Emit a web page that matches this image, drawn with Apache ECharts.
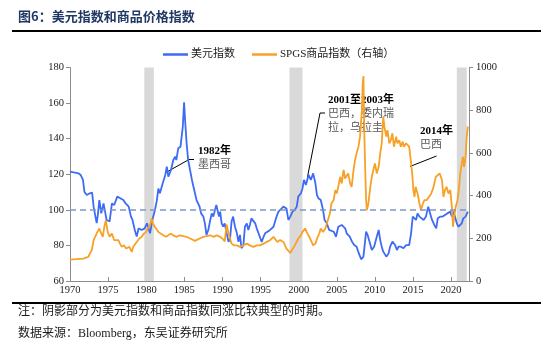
<!DOCTYPE html>
<html><head><meta charset="utf-8">
<script src="https://cdn.jsdelivr.net/npm/echarts@6/dist/echarts.min.js"></script>
<style>html,body{margin:0;padding:0;background:#fff}#c{width:553px;height:355px}</style>
</head><body><div id="c"></div>
<script>
// ---- data ----
const usdTime = [1970.0,1970.5,1971.1,1971.4,1971.7,1971.9,1972.2,1972.6,1972.9,1973.1,1973.3,1973.5,1973.65,1973.85,1974.1,1974.4,1974.6,1974.8,1975.0,1975.2,1975.5,1975.8,1976.2,1976.6,1977.0,1977.3,1977.7,1978.0,1978.2,1978.5,1978.75,1979.0,1979.2,1979.4,1979.8,1980.1,1980.5,1980.8,1981.15,1981.4,1981.6,1981.8,1982.1,1982.5,1982.7,1982.9,1983.25,1983.55,1983.8,1983.95,1984.2,1984.5,1984.8,1984.97,1985.1,1985.3,1985.5,1985.75,1986.0,1986.2,1986.4,1986.6,1987.0,1987.2,1987.5,1987.7,1987.9,1988.15,1988.4,1988.6,1988.8,1989.2,1989.35,1989.55,1989.7,1989.9,1990.1,1990.3,1990.55,1990.8,1991.0,1991.2,1991.4,1991.65,1991.9,1992.1,1992.3,1992.5,1992.75,1992.95,1993.2,1993.4,1993.6,1993.8,1994.05,1994.3,1994.5,1994.7,1994.9,1995.15,1995.4,1995.6,1995.8,1996.25,1996.7,1997.1,1997.35,1997.56,1998.0,1998.4,1998.65,1998.9,1999.2,1999.5,1999.75,1999.95,2000.3,2000.5,2000.7,2000.95,2001.3,2001.6,2001.9,2002.2,2002.4,2002.6,2002.9,2003.2,2003.4,2003.7,2004.0,2004.2,2004.6,2004.9,2005.2,2005.65,2005.9,2006.1,2006.3,2006.7,2007.0,2007.3,2007.6,2007.9,2008.2,2008.5,2008.85,2009.05,2009.3,2009.6,2009.9,2010.25,2010.5,2010.7,2010.9,2011.1,2011.5,2011.8,2012.0,2012.3,2012.65,2012.9,2013.1,2013.4,2013.75,2014.1,2014.3,2014.5,2014.75,2014.97,2015.2,2015.4,2015.6,2015.85,2016.1,2016.4,2016.7,2017.0,2017.25,2017.5,2017.8,2018.05,2018.25,2018.6,2018.9,2019.2,2019.5,2019.9,2020.1,2020.3,2020.5,2020.75,2020.95,2021.2,2021.4,2021.6,2021.9,2022.2];
const usdValue = [121.5,121,120.5,119.6,116.8,110,108.3,109.3,109.7,101.8,97,92.6,97,105.5,98,103.6,99,94.3,95.2,93.5,103.6,102.7,107.4,106.5,105.5,103.6,101.8,96.2,94.3,88.7,85,89.6,90.5,88.7,89.6,92.4,86.8,94.3,99.9,105.5,112,109.3,114,119.6,124.3,118.6,122.4,128,129.9,128,134.6,135.5,146.8,160.5,150.5,137.4,128,122.4,116.8,113,109.3,105.5,101.8,98,96.2,92.4,85.9,88.7,94.3,98,96.2,102.7,101.8,96.2,99,92.4,90.5,92.4,86.8,82,84,93.4,96.2,90.5,86.8,82,85.9,78.4,80.2,90.5,92.4,88.7,91.5,95.2,96.2,92.4,89.6,88.7,84.9,82,84.9,86.8,86.8,88.7,90.5,96.2,99,100,101.8,100.8,94.3,96.2,99,99.9,101.8,107.4,109.3,112,116.8,114,119.6,116.8,120.5,114.9,108.3,106.5,105.5,99.9,94.3,92.4,88.7,89.6,87.7,84.9,90.5,91.5,90.5,89.6,86.8,84.9,82.1,80.2,79.3,75.5,72.2,73.7,87.7,85.9,82.1,77.4,79.3,84.9,88.7,83,79.3,76.5,73.7,75.5,79.3,82.1,80.2,77.4,79.3,79.3,78.4,80.2,79.3,80.2,86.8,96.2,97.1,94.3,98,96.2,97.1,94.3,96.2,101.8,98,94.3,91.5,89.6,95.2,96.2,96.2,97.1,98,99,96.2,99,96.2,92.4,90.5,91.5,92.4,95.2,96.2,99];
const gsciTime = [1970.0,1970.8,1971.75,1972.4,1972.6,1972.85,1973.1,1973.3,1973.6,1973.85,1974.1,1974.3,1974.5,1974.7,1974.95,1975.2,1975.5,1975.8,1976.0,1976.35,1976.55,1976.8,1977.1,1977.35,1977.5,1977.8,1978.1,1978.3,1978.5,1978.75,1979.1,1979.4,1979.7,1980.0,1980.2,1980.5,1980.7,1980.9,1981.15,1981.4,1981.6,1981.9,1982.25,1982.6,1982.9,1983.2,1983.55,1984.0,1984.4,1984.9,1985.3,1985.75,1986.0,1986.4,1987.0,1987.5,1987.9,1988.4,1988.8,1989.25,1989.7,1990.0,1990.3,1990.55,1990.8,1991.0,1991.2,1991.5,1991.9,1992.3,1992.75,1993.2,1993.6,1994.05,1994.5,1994.9,1995.4,1995.8,1996.25,1996.7,1996.9,1997.2,1997.56,1998.0,1998.4,1998.9,1999.1,1999.5,1999.95,2000.3,2000.5,2000.85,2001.05,2001.4,2001.7,2001.9,2002.2,2002.5,2002.7,2002.9,2003.2,2003.5,2003.7,2003.9,2004.1,2004.3,2004.6,2004.8,2005.0,2005.2,2005.45,2005.65,2005.9,2006.1,2006.3,2006.5,2006.75,2006.95,2007.2,2007.4,2007.6,2007.85,2008.05,2008.3,2008.4,2008.5,2008.6,2008.7,2008.85,2008.95,2009.15,2009.4,2009.6,2009.8,2010.0,2010.25,2010.5,2010.7,2010.9,2011.1,2011.25,2011.5,2011.65,2011.9,2012.1,2012.3,2012.5,2012.8,2012.95,2013.2,2013.4,2013.65,2013.8,2014.1,2014.3,2014.5,2014.7,2014.9,2015.05,2015.2,2015.35,2015.6,2015.85,2016.05,2016.3,2016.5,2016.8,2017.1,2017.4,2017.7,2018.0,2018.2,2018.5,2018.8,2019.0,2019.2,2019.4,2019.65,2019.9,2020.1,2020.25,2020.4,2020.6,2020.85,2021.05,2021.2,2021.4,2021.55,2021.7,2021.9,2022.05,2022.2];
const gsciValue = [100,102,105,113,128,144,191,183,230,246,222,207,253,285,230,207,222,191,183,191,175,160,167,152,144,160,136,160,167,183,199,207,222,230,246,261,293,269,253,246,230,222,214,207,214,222,214,207,214,210,207,199,191,188,199,207,210,214,207,214,207,199,185,265,222,199,175,167,167,160,167,175,167,160,167,167,175,183,191,207,199,183,192,183,152,131,136,167,199,214,230,246,230,207,183,167,175,207,222,246,230,246,269,293,316,363,379,426,410,441,488,457,520,480,473,504,457,441,520,567,598,629,676,801,920,960,723,567,379,332,363,441,488,520,551,504,535,598,645,770,723,676,707,645,660,692,629,676,645,660,629,653,629,645,653,629,567,504,426,394,441,410,363,332,363,379,379,394,410,441,488,480,504,473,394,426,441,410,426,347,254,300,347,379,441,504,551,582,535,582,676,723];
const leftTicks = [60, 80, 100, 120, 140, 160, 180];
const rightTicks = [0, 200, 400, 600, 800, 1000];
const yearTicks = [1970, 1975, 1980, 1985, 1990, 1995, 2000, 2005, 2010, 2015, 2020];
const shadedPeriods = [[1979.75, 1981.0], [1998.8, 2000.5], [2020.75, 2022.05]];
const referenceLevel = 100;
const seriesNames = ['美元指数', 'SPGS商品指数（右轴）'];

const zip = (a, b) => a.map((t, i) => [t, b[i]]);
const SERIF = '"Liberation Serif","Noto Sans CJK SC",serif';
const AX = '#8c8c8c';

const chart = echarts.init(document.getElementById('c'), null, {renderer: 'canvas'});
chart.setOption({
  backgroundColor: '#ffffff',
  animation: false,
  textStyle: {fontFamily: SERIF},
  grid: {left: 70, right: 84, top: 67.5, bottom: 74},
  legend: {
    left: 158, top: 44, itemWidth: 25, itemHeight: 2.5, itemGap: 17, icon: 'rect',
    textStyle: {fontSize: 11, fontFamily: SERIF, color: '#1a1a1a', padding: [0, 0, 0, -2]},
    data: seriesNames
  },
  xAxis: {
    type: 'value', min: yearTicks[0], max: 2022.35, interval: 5,
    axisLine: {lineStyle: {color: AX, width: 1}},
    axisTick: {inside: true, length: 4, lineStyle: {color: AX}},
    axisLabel: {
      fontSize: 10.5, color: '#1a1a1a', fontFamily: SERIF, margin: 4,
      showMaxLabel: false,
      formatter: v => (yearTicks.indexOf(Math.round(v)) >= 0 && Math.abs(v - Math.round(v)) < 1e-6) ? String(Math.round(v)) : ''
    },
    splitLine: {show: false}
  },
  yAxis: [{
    type: 'value', min: leftTicks[0], max: leftTicks[leftTicks.length - 1], interval: 20,
    axisLine: {show: true, lineStyle: {color: AX}},
    axisTick: {show: true, length: 4, lineStyle: {color: AX}},
    axisLabel: {fontSize: 10.5, color: '#1a1a1a', fontFamily: SERIF, margin: 6, formatter: v => String(v)},
    splitLine: {show: false}
  }, {
    type: 'value', min: rightTicks[0], max: rightTicks[rightTicks.length - 1], interval: 200,
    position: 'right',
    axisLine: {show: true, lineStyle: {color: AX}},
    axisTick: {show: true, length: 4, lineStyle: {color: AX}},
    axisLabel: {fontSize: 10.5, color: '#1a1a1a', fontFamily: SERIF, margin: 7, formatter: v => String(v)},
    splitLine: {show: false}
  }],
  series: [{
    type: 'line', name: 'shade', data: [], z: 1, silent: true,
    markArea: {silent: true, itemStyle: {color: '#d9d9d9'},
      data: shadedPeriods.map(p => [{xAxis: p[0]}, {xAxis: p[1]}])}
  }, {
    name: seriesNames[0], type: 'line', yAxisIndex: 0, z: 3,
    data: zip(usdTime, usdValue), showSymbol: false, symbol: 'none',
    lineStyle: {color: '#3d6bf5', width: 1.8}, itemStyle: {color: '#3d6bf5'},
    markLine: {silent: true, symbol: 'none', label: {show: false},
      lineStyle: {color: '#7d97c9', type: [6, 4], width: 1.5},
      data: [{yAxis: referenceLevel}]}
  }, {
    name: seriesNames[1], type: 'line', yAxisIndex: 1, z: 4,
    data: zip(gsciTime, gsciValue), showSymbol: false, symbol: 'none',
    lineStyle: {color: '#f7a126', width: 1.8}, itemStyle: {color: '#f7a126'}
  }],
  graphic: [
    {type: 'text', left: 18, top: 10, style: {text: '图6：美元指数和商品价格指数', font: 'bold 13px "Noto Sans CJK SC"', fill: '#1f3864'}},
    {type: 'line', shape: {x1: 12, y1: 31, x2: 541, y2: 31}, style: {stroke: '#000', lineWidth: 2}},
    {type: 'line', shape: {x1: 12, y1: 303, x2: 541, y2: 303}, style: {stroke: '#000', lineWidth: 2}},
    {type: 'text', left: 18, top: 306, style: {text: '注：阴影部分为美元指数和商品指数同涨比较典型的时期。', font: '12px ' + SERIF, fill: '#1a1a1a'}},
    {type: 'text', left: 18, top: 328, style: {text: '数据来源：Bloomberg，东吴证券研究所', font: '12px ' + SERIF, fill: '#1a1a1a'}},
    // annotations
    {type: 'polyline', shape: {points: [[165, 173], [189, 159.5], [194, 159.5]]}, style: {stroke: '#000', lineWidth: 1, fill: null}},
    {type: 'text', left: 198, top: 146, style: {text: '1982年', font: 'bold 11px ' + SERIF, fill: '#000'}},
    {type: 'text', left: 198, top: 160, style: {text: '墨西哥', font: '11px ' + SERIF, fill: '#595959'}},
    {type: 'polyline', shape: {points: [[325, 113], [320, 113], [307.5, 177]]}, style: {stroke: '#000', lineWidth: 1, fill: null}},
    {type: 'text', left: 328, top: 95, style: {text: '2001至2003年', font: 'bold 11px ' + SERIF, fill: '#000'}},
    {type: 'text', left: 328, top: 109, style: {text: '巴西，委内瑞', font: '11px ' + SERIF, fill: '#595959'}},
    {type: 'text', left: 328, top: 123, style: {text: '拉，乌拉圭', font: '11px ' + SERIF, fill: '#595959'}},
    {type: 'line', shape: {x1: 436.5, y1: 156, x2: 410, y2: 166.5}, style: {stroke: '#000', lineWidth: 1}},
    {type: 'text', left: 420, top: 126, style: {text: '2014年', font: 'bold 11px ' + SERIF, fill: '#000'}},
    {type: 'text', left: 420, top: 140, style: {text: '巴西', font: '11px ' + SERIF, fill: '#595959'}}
  ]
});
</script>
</body></html>
